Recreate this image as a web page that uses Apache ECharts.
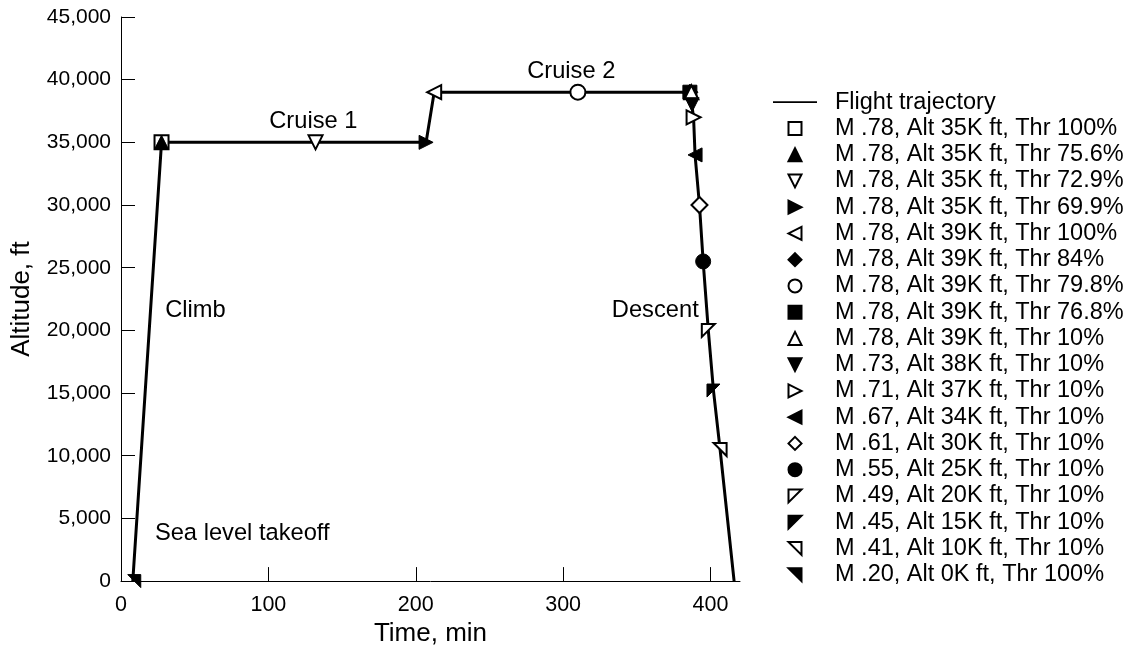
<!DOCTYPE html>
<html>
<head>
<meta charset="utf-8">
<script src="https://cdn.jsdelivr.net/npm/echarts@6/dist/echarts.min.js"></script>
<style>
html,body{margin:0;padding:0;background:#fff;overflow:hidden;width:1133px;height:652px;}
#chart{width:1133px;height:652px;display:block;}
</style>
</head>
<body>
<div id="chart"></div>
<script>
// Flight trajectory
const trajTime = [8, 27.5, 207, 212.5, 386, 388.5, 389.5, 392.5, 395, 398.5, 402, 406.5, 416];
const trajAlt  = [0, 35000, 35000, 39000, 39000, 37000, 34000, 30000, 25500, 20000, 15200, 10500, 0];

// Marker series (legend order)
const markerNames = [
  'M .78, Alt 35K ft, Thr 100%',
  'M .78, Alt 35K ft, Thr 75.6%',
  'M .78, Alt 35K ft, Thr 72.9%',
  'M .78, Alt 35K ft, Thr 69.9%',
  'M .78, Alt 39K ft, Thr 100%',
  'M .78, Alt 39K ft, Thr 84%',
  'M .78, Alt 39K ft, Thr 79.8%',
  'M .78, Alt 39K ft, Thr 76.8%',
  'M .78, Alt 39K ft, Thr 10%',
  'M .73, Alt 38K ft, Thr 10%',
  'M .71, Alt 37K ft, Thr 10%',
  'M .67, Alt 34K ft, Thr 10%',
  'M .61, Alt 30K ft, Thr 10%',
  'M .55, Alt 25K ft, Thr 10%',
  'M .49, Alt 20K ft, Thr 10%',
  'M .45, Alt 15K ft, Thr 10%',
  'M .41, Alt 10K ft, Thr 10%',
  'M .20, Alt 0K ft, Thr 100%'
];
const markerTimes = [27.5, 27.5, 132, 207, 212.5, 386, 310, 386, 387, 387.5, 388.5, 389.5, 392.5, 395, 398.5, 402, 406.5, 9];
const markerAlts  = [35000, 35000, 35000, 35000, 39000, 39000, 39000, 39000, 39000, 38000, 37000, 34000, 30000, 25500, 20000, 15200, 10500, 0];
const markerShapes = ['square','triUp','triDown','triRight','triLeft','diamond','circle','square','triUp','triDown','triRight','triLeft','diamond','circle','cornerTL','cornerTL','cornerTR','cornerTR'];
const markerFilled = [false, true, false, true, false, true, false, true, false, true, false, true, false, true, false, true, false, true];

// Annotations
const noteTexts = ['Cruise 1', 'Cruise 2', 'Climb', 'Descent', 'Sea level takeoff'];
const noteTimes = [130.5, 305.5, 30, 392, 23];
const noteAlts  = [36650, 40650, 21600, 21600, 3800];
const noteAlign = ['center', 'center', 'left', 'right', 'left'];

const xTicks = [0, 100, 200, 300, 400];

const FONT = 'Liberation Sans, Arial, Helvetica, sans-serif';
const shapeMap = {
  square: 'path://M0,0 L10,0 L10,10 L0,10 Z',
  circle: 'circle',
  diamond: 'path://M5,0 L10,5 L5,10 L0,5 Z',
  triUp: 'path://M5,0 L10,10 L0,10 Z',
  triDown: 'path://M0,0 L10,0 L5,10 Z',
  triRight: 'path://M0,0 L10,5 L0,10 Z',
  triLeft: 'path://M10,0 L0,5 L10,10 Z',
  cornerTL: 'path://M0,0 L10,0 L0,10 Z',
  cornerTR: 'path://M0,0 L10,0 L10,10 Z'
};
const sizeMap = {square:14, circle:15, diamond:16, triUp:14, triDown:14, triRight:14, triLeft:14, cornerTL:13, cornerTR:13};

const series = [{
  name: 'Flight trajectory',
  type: 'line',
  data: trajTime.map((t, i) => [t, trajAlt[i]]),
  symbol: 'none',
  lineStyle: {color: '#000', width: 3},
  itemStyle: {color: '#000'},
  z: 1
}];
markerNames.forEach((n, i) => {
  const filled = markerFilled[i];
  series.push({
    name: n,
    type: 'scatter',
    data: [[markerTimes[i], markerAlts[i]]],
    symbol: shapeMap[markerShapes[i]],
    symbolSize: sizeMap[markerShapes[i]],
    itemStyle: filled ? {color: '#000', borderColor: '#000', borderWidth: 1, opacity: 1}
                      : {color: '#fff', borderColor: '#000', borderWidth: 2, opacity: 1},
    z: 3
  });
});
series.push({
  name: 'notes',
  type: 'scatter',
  symbolSize: 0,
  silent: true,
  itemStyle: {opacity: 1},
  data: noteTexts.map((s, i) => ({value: [noteTimes[i], noteAlts[i]], name: s, label: {align: noteAlign[i]}})),
  label: {
    show: true,
    position: 'inside',
    formatter: p => p.name,
    color: '#000',
    fontFamily: FONT,
    fontSize: 23.7
  },
  z: 4
});

const legendData = [{name: 'Flight trajectory', icon: 'path://M0,0 L100,0 L100,4.5 L0,4.5 Z'}]
  .concat(markerNames.map((n, i) => ({name: n, icon: shapeMap[markerShapes[i]]})));

const chart = echarts.init(document.getElementById('chart'), null, {renderer: 'canvas', width: 1133, height: 652});
chart.setOption({
  animation: false,
  backgroundColor: '#fff',
  textStyle: {fontFamily: FONT},
  grid: {left: 121, right: 393, top: 17, bottom: 64, containLabel: false},
  legend: {
    data: legendData,
    orient: 'vertical',
    left: 773,
    top: 89,
    padding: 0,
    itemWidth: 44,
    itemHeight: 13,
    itemGap: 0,
    selectedMode: false,
    textStyle: {color: '#000', fontFamily: FONT, fontSize: 23.5, lineHeight: 26.25, padding: [0, 0, 0, 13]}
  },
  xAxis: {
    type: 'value',
    min: 0, max: 420,
    name: 'Time, min',
    nameLocation: 'middle',
    nameGap: 35,
    nameTextStyle: {color: '#000', fontSize: 26, fontFamily: FONT},
    axisLine: {show: true, onZero: false, lineStyle: {color: '#000', width: 1}},
    axisTick: {show: true, inside: true, length: 14, lineStyle: {color: '#000'}, customValues: xTicks},
    axisLabel: {color: '#000', fontSize: 21.5, fontFamily: FONT, margin: 13, customValues: xTicks},
    splitLine: {show: false}
  },
  yAxis: {
    type: 'value',
    min: 0, max: 45000, interval: 5000,
    name: 'Altitude, ft',
    nameLocation: 'middle',
    nameGap: 86,
    nameTextStyle: {color: '#000', fontSize: 26, fontFamily: FONT},
    axisLine: {show: true, onZero: false, lineStyle: {color: '#000', width: 1}},
    axisTick: {show: true, inside: true, length: 14, lineStyle: {color: '#000'}},
    axisLabel: {color: '#000', fontSize: 21, fontFamily: FONT, margin: 10,
      formatter: v => v.toLocaleString('en-US')},
    splitLine: {show: false}
  },
  series: series
});
</script>
</body>
</html>
